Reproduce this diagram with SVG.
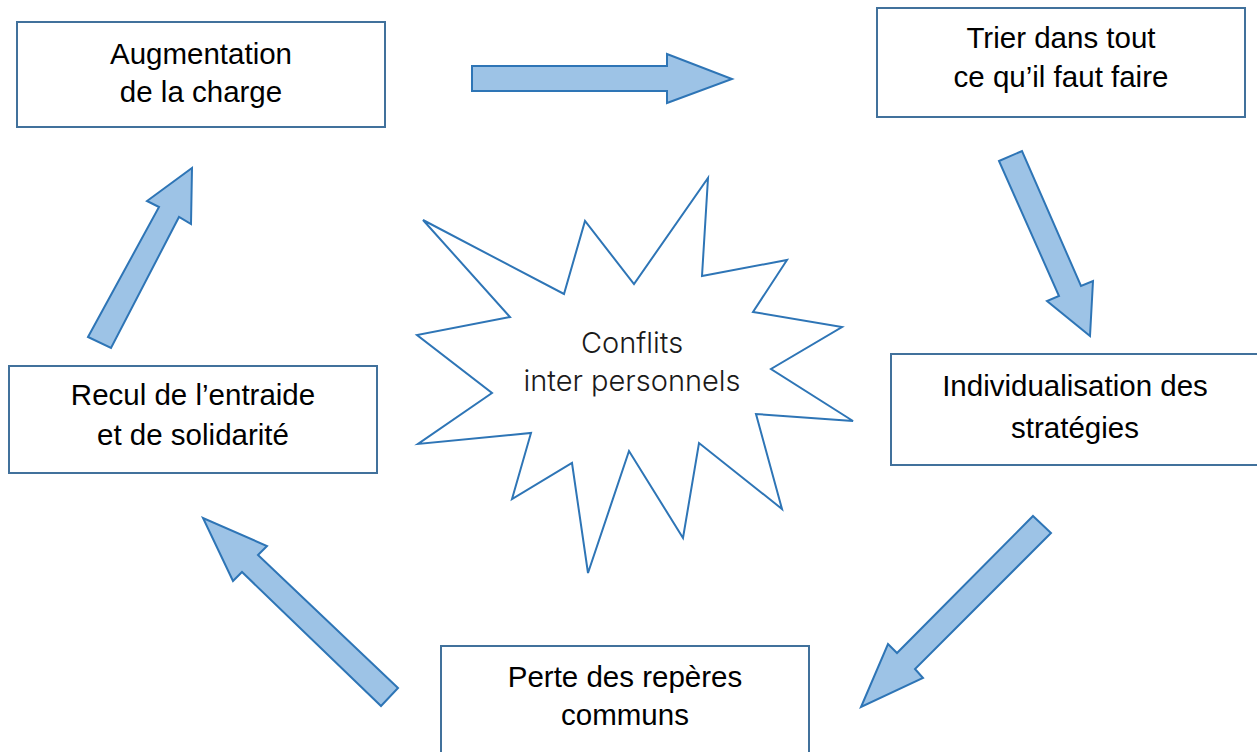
<svg xmlns="http://www.w3.org/2000/svg" width="1257" height="752" viewBox="0 0 1257 752">
<style>
.box{fill:#ffffff;stroke:#41719c;stroke-width:2}
.lbl{font-family:"Liberation Sans",Arial,sans-serif;font-size:29.5px;fill:#000;text-anchor:middle}
.arr{fill:#9dc3e6;stroke:#2e75b6;stroke-width:2;stroke-linejoin:miter}
.star{fill:#ffffff;stroke:#2e75b6;stroke-width:2}
.slbl{font-family:Inter,"Open Sans",sans-serif;font-weight:300;font-size:29px;fill:#1a1a1a;text-anchor:middle}
</style>
<rect width="1257" height="752" fill="#ffffff"/>
<g id="connectors">
<polygon class="arr" points="472,66 667,66 667,54 732,79 667,103 667,91 472,91"/>
<polygon class="arr" points="999,161 1022,151 1081,286 1093,281 1090,336 1047,301 1059,296"/>
<polygon class="arr" points="1033,516 1051,533 915,669 923,678 861,707 888,644 897,653"/>
<polygon class="arr" points="398,688 258,555 267,546 203,518 233,581 242,572 381,706"/>
<polygon class="arr" points="88,337 159,207 147,201 192,168 191,224 179,217 111,348"/>
</g>
<g id="node-augmentation">
<rect class="box" x="17" y="22" width="368" height="105"/>
<text class="lbl" x="201" y="64">Augmentation</text>
<text class="lbl" x="201" y="102">de la charge</text>
</g>
<g id="node-trier">
<rect class="box" x="877" y="8" width="368" height="109"/>
<text class="lbl" x="1061" y="48">Trier dans tout</text>
<text class="lbl" x="1061" y="87">ce qu’il faut faire</text>
</g>
<g id="node-individualisation">
<rect class="box" x="891" y="354" width="370" height="111"/>
<text class="lbl" x="1075" y="396">Individualisation des</text>
<text class="lbl" x="1075" y="438">stratégies</text>
</g>
<g id="node-perte">
<rect class="box" x="441" y="646" width="368" height="107"/>
<text class="lbl" x="625" y="687">Perte des repères</text>
<text class="lbl" x="625" y="725">communs</text>
</g>
<g id="node-recul">
<rect class="box" x="9" y="366" width="368" height="107"/>
<text class="lbl" x="193" y="405">Recul de l’entraide</text>
<text class="lbl" x="193" y="445">et de solidarité</text>
</g>
<g id="node-conflits">
<polygon class="star" points="423,220 564,294 585,221 634,284 708,178 702,276 787,260 753,312 842,327 771,369 853,421 756,414 782,509 699,443 683,538 629,451 588,573 572,463 512,499 531,433 418,444 492,393 417,335 510,317"/>
<text class="slbl" x="632" y="353">Conflits</text>
<text class="slbl" x="632" y="391">inter personnels</text>
</g>
</svg>
